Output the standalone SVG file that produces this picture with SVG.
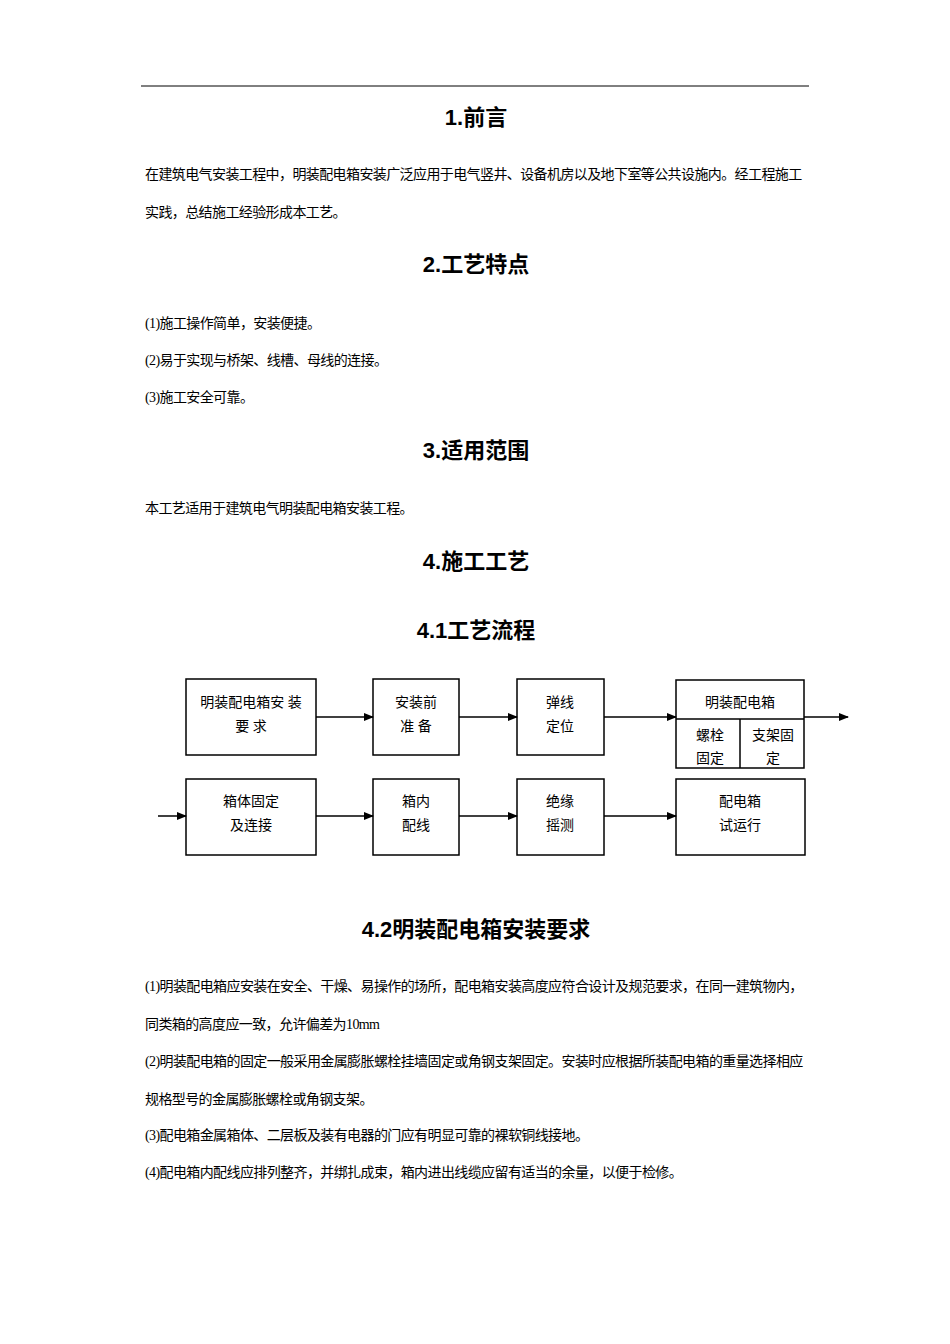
<svg xmlns="http://www.w3.org/2000/svg" width="950" height="1344" viewBox="0 0 950 1344">
<style>
text{font-family:"Liberation Serif","Noto Sans CJK SC",serif;fill:#000}
.h{font-size:22px;font-weight:bold;text-anchor:middle;font-family:"Liberation Sans","Noto Sans CJK SC",sans-serif}
.p{font-size:14px;letter-spacing:-0.6px}
.b{font-size:14px;text-anchor:middle}
.box{fill:#fff;stroke:#000;stroke-width:1.5}
.c{stroke:#000;stroke-width:1.5;fill:none;marker-end:url(#a)}
</style>
<defs><marker id="a" markerWidth="10" markerHeight="8" refX="9" refY="4" orient="auto" markerUnits="userSpaceOnUse"><path d="M0,0L10,4L0,8z" fill="#000"/></marker></defs>
<rect width="950" height="1344" fill="#fff"/>
<line x1="141" y1="86" x2="809" y2="86" stroke="#000" stroke-width="1"/>
<text class="h" x="476" y="125">1.前言</text>
<text class="p" x="145" y="179">在建筑电气安装工程中，明装配电箱安装广泛应用于电气竖井、设备机房以及地下室等公共设施内。经工程施工</text>
<text class="p" x="145" y="217">实践，总结施工经验形成本工艺。</text>
<text class="h" x="476" y="272">2.工艺特点</text>
<text class="p" x="145" y="328">(1)施工操作简单，安装便捷。</text>
<text class="p" x="145" y="365">(2)易于实现与桥架、线槽、母线的连接。</text>
<text class="p" x="145" y="402">(3)施工安全可靠。</text>
<text class="h" x="476" y="458">3.适用范围</text>
<text class="p" x="145" y="513">本工艺适用于建筑电气明装配电箱安装工程。</text>
<text class="h" x="476" y="569">4.施工工艺</text>
<text class="h" x="476" y="638">4.1工艺流程</text>
<g id="n1"><rect class="box" x="186" y="679" width="130" height="76"/><text class="b" x="251" y="707">明装配电箱安 装</text><text class="b" x="251" y="731">要 求</text></g>
<g id="n2"><rect class="box" x="373" y="679" width="86" height="76"/><text class="b" x="416" y="707">安装前</text><text class="b" x="416" y="731">准 备</text></g>
<g id="n3"><rect class="box" x="517" y="679" width="87" height="76"/><text class="b" x="560" y="707">弹线</text><text class="b" x="560" y="731">定位</text></g>
<g id="n4"><rect class="box" x="676" y="680" width="128" height="88" stroke-width="2"/><line x1="676" y1="719" x2="804" y2="719" stroke="#000" stroke-width="1.5"/><line x1="740" y1="719" x2="740" y2="768" stroke="#000" stroke-width="1.5"/><text class="b" x="740" y="707">明装配电箱</text><text class="b" x="710" y="740">螺栓</text><text class="b" x="710" y="763">固定</text><text class="b" x="773" y="740">支架固</text><text class="b" x="773" y="763">定</text></g>
<g id="n5"><rect class="box" x="186" y="779" width="130" height="76"/><text class="b" x="251" y="806">箱体固定</text><text class="b" x="251" y="830">及连接</text></g>
<g id="n6"><rect class="box" x="373" y="779" width="86" height="76"/><text class="b" x="416" y="806">箱内</text><text class="b" x="416" y="830">配线</text></g>
<g id="n7"><rect class="box" x="517" y="779" width="87" height="76"/><text class="b" x="560" y="806">绝缘</text><text class="b" x="560" y="830">摇测</text></g>
<g id="n8"><rect class="box" x="676" y="779" width="129" height="76"/><text class="b" x="740" y="806">配电箱</text><text class="b" x="740" y="830">试运行</text></g>
<g id="connectors">
<line class="c" x1="316" y1="717" x2="373" y2="717"/>
<line class="c" x1="459" y1="717" x2="517" y2="717"/>
<line class="c" x1="604" y1="717" x2="676" y2="717"/>
<line class="c" x1="804" y1="717" x2="848" y2="717"/>
<line class="c" x1="158" y1="816" x2="186" y2="816"/>
<line class="c" x1="316" y1="816" x2="373" y2="816"/>
<line class="c" x1="459" y1="816" x2="517" y2="816"/>
<line class="c" x1="604" y1="816" x2="676" y2="816"/>
</g>
<text class="h" x="476" y="937">4.2明装配电箱安装要求</text>
<text class="p" x="145" y="991">(1)明装配电箱应安装在安全、干燥、易操作的场所，配电箱安装高度应符合设计及规范要求，在同一建筑物内，</text>
<text class="p" x="145" y="1029">同类箱的高度应一致，允许偏差为10mm</text>
<text class="p" x="145" y="1066">(2)明装配电箱的固定一般采用金属膨胀螺栓挂墙固定或角钢支架固定。安装时应根据所装配电箱的重量选择相应</text>
<text class="p" x="145" y="1104">规格型号的金属膨胀螺栓或角钢支架。</text>
<text class="p" x="145" y="1140">(3)配电箱金属箱体、二层板及装有电器的门应有明显可靠的裸软铜线接地。</text>
<text class="p" x="145" y="1177">(4)配电箱内配线应排列整齐，并绑扎成束，箱内进出线缆应留有适当的余量，以便于检修。</text>
</svg>
